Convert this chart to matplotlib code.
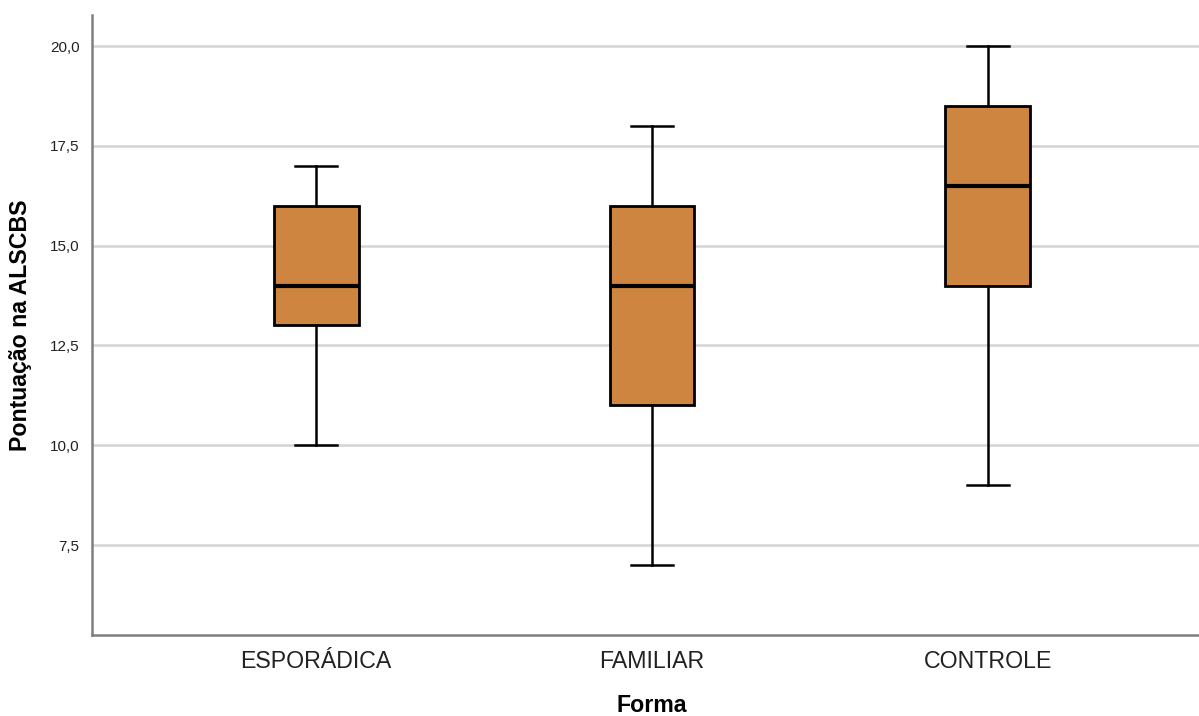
import matplotlib
matplotlib.use("Agg")
import matplotlib.pyplot as plt
from matplotlib.ticker import FuncFormatter

plt.rcParams['font.family'] = ['Liberation Sans', 'DejaVu Sans']

# Five-number summaries per group
groups = ["ESPORÁDICA", "FAMILIAR", "CONTROLE"]
whisker_low = [10.0, 7.0, 9.0]
q1 = [13.0, 11.0, 14.0]
median = [14.0, 14.0, 16.5]
q3 = [16.0, 16.0, 18.5]
whisker_high = [17.0, 18.0, 20.0]
y_ticks = [7.5, 10.0, 12.5, 15.0, 17.5, 20.0]

stats = []
for name, lo, a, m, b, hi in zip(groups, whisker_low, q1, median, q3, whisker_high):
    stats.append(dict(label=name, whislo=lo, q1=a, med=m, q3=b, whishi=hi, fliers=[]))

W, H = 1199, 716
ax_w = 1120
fig = plt.figure(figsize=(W / 100, H / 100), dpi=100)
ax = fig.add_axes([92 / W, 1 - 635 / H, ax_w / W, (635 - 15) / H])

positions = [1, 2, 3]
ax.bxp(stats, positions=positions, widths=0.253, patch_artist=True,
       showfliers=False,
       boxprops=dict(facecolor="#CD853F", edgecolor="black", linewidth=2.0),
       medianprops=dict(color="black", linewidth=3.0),
       whiskerprops=dict(color="black", linewidth=1.8),
       capprops=dict(color="black", linewidth=1.8),
       capwidths=0.125, zorder=3)

ax.set_xlim(0.333, 3.667)
ax.set_ylim(5.245, 20.78)
ax.set_yticks(y_ticks)
ax.yaxis.set_major_formatter(FuncFormatter(lambda v, p: f"{v:.1f}".replace(".", ",")))
ax.grid(axis="y", color="#d4d4d4", linewidth=1.8, zorder=0)
ax.set_axisbelow(True)

for side in ("top", "right"):
    ax.spines[side].set_visible(False)
for side in ("left", "bottom"):
    ax.spines[side].set_color("#7f7f7f")
    ax.spines[side].set_linewidth(1.8)

ax.tick_params(axis="both", length=0)
ax.tick_params(axis="y", labelsize=11, pad=9, labelcolor="#222222")
ax.tick_params(axis="x", labelsize=16.7, pad=11, labelcolor="#222222")

ax.set_ylabel("Pontuação na ALSCBS", fontsize=16.7, fontweight="bold")
ax.set_xlabel("Forma", fontsize=16.7, fontweight="bold")
ax.yaxis.set_label_coords(-(92 - 20) / ax_w, 0.5)
ax.xaxis.set_label_coords(0.5, -(706 - 635) / 620)
ax.xaxis.label.set_va("center")
ax.yaxis.label.set_va("center")

fig.savefig("out.png", dpi=100)
